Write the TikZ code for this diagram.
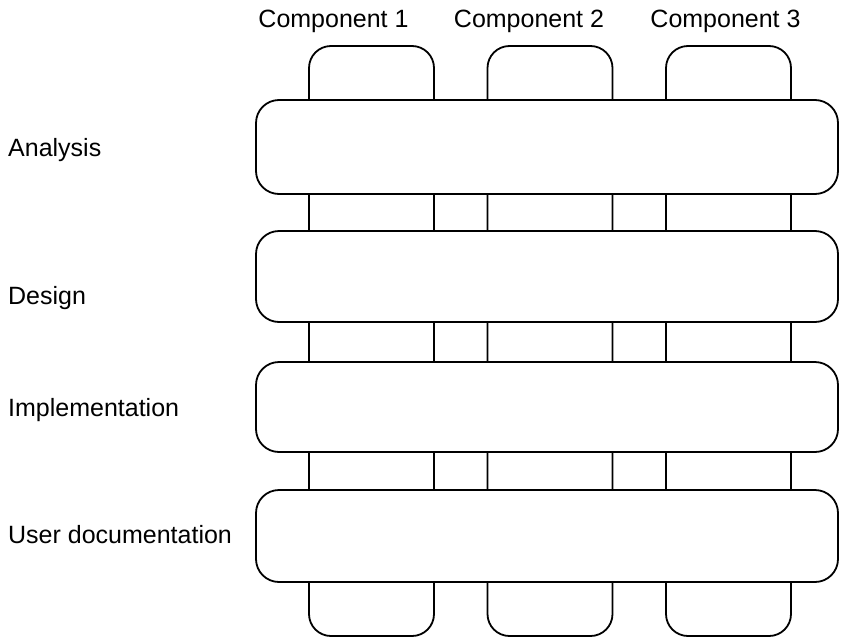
\documentclass[tikz,border=0pt]{standalone}
\usepackage{fontspec}
\setmainfont{Liberation Sans}
\begin{document}
\begin{tikzpicture}[x=1pt,y=-1pt,
  col/.style={draw, line width=1.8pt, rounded corners=22pt, minimum width=125pt, minimum height=590pt, inner sep=0pt},
  bar/.style={draw, fill=white, line width=1.8pt, rounded corners=23pt, minimum width=582pt, inner sep=0pt},
  lbl/.style={inner sep=0pt, font=\fontsize{25}{30}\selectfont}]
\useasboundingbox (0,0) rectangle (843,640);
% columns
\node[col] (c1) at (371.5,341) {};
\node[col] (c2) at (550,341) {};
\node[col] (c3) at (728.5,341) {};
% bars
\node[bar, minimum height=94pt] (b1) at (547,147) {};
\node[bar, minimum height=91pt] (b2) at (547,276.5) {};
\node[bar, minimum height=90pt] (b3) at (547,407) {};
\node[bar, minimum height=92pt] (b4) at (547,536) {};
% column labels
\node[lbl, anchor=base] (t1) at (333.5,27) {Component 1};
\node[lbl, anchor=base] (t2) at (529,27) {Component 2};
\node[lbl, anchor=base] (t3) at (725.5,27) {Component 3};
% row labels
\node[lbl, anchor=base west] (r1) at (8,156) {Analysis};
\node[lbl, anchor=base west] (r2) at (8,304) {Design};
\node[lbl, anchor=base west] (r3) at (8,416) {Implementation};
\node[lbl, anchor=base west] (r4) at (8,543) {User documentation};
\end{tikzpicture}
\end{document}
